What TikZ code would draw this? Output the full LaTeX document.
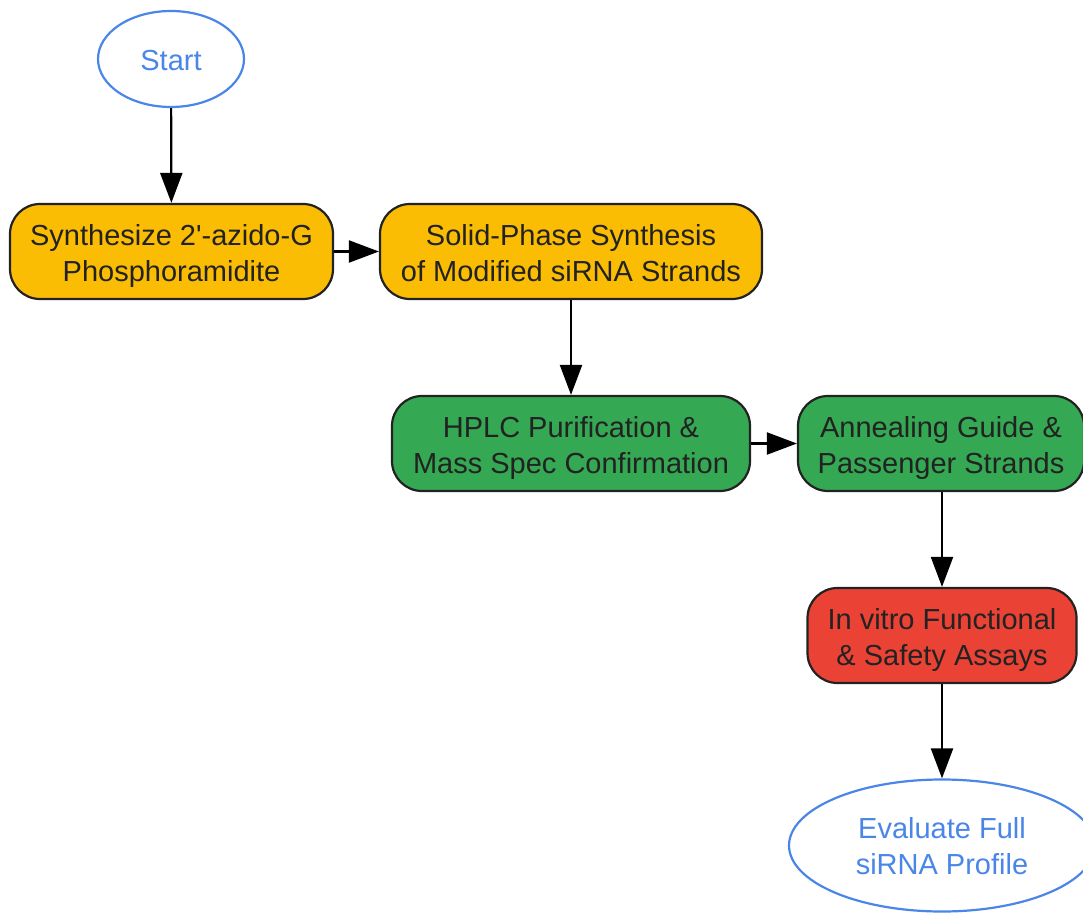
\documentclass[tikz,border=0pt]{standalone}
\usepackage{fontspec}
\setmainfont{Liberation Sans}[Ligatures=TeXOff]
\usetikzlibrary{shapes.geometric,arrows.meta}
\definecolor{cblue}{HTML}{4A86E8}
\definecolor{corange}{HTML}{FBBC04}
\definecolor{cgreen}{HTML}{34A853}
\definecolor{cred}{HTML}{EA4335}
\definecolor{ctext}{HTML}{222222}
\begin{document}
\begin{tikzpicture}[x=1pt,y=-1pt,
  every node/.style={font=\fontsize{29}{36}\selectfont, align=center, inner sep=0pt},
  two/.style={text height=59pt, text depth=0pt},
  term/.style={ellipse, draw=cblue, line width=2.2pt, fill=white, text=cblue},
  proc/.style={rectangle, rounded corners=30pt, draw=ctext, line width=2.2pt, text=ctext, two},
  conn/.style={line width=2.2pt, -{Triangle[length=30pt,width=22pt]}}]
\useasboundingbox (0,0) rectangle (1083,912);
\node[term, minimum width=146pt, minimum height=96pt, text height=23pt, text depth=0pt] (start) at (171,59) {Start};
\node[proc, fill=corange, minimum width=323pt, minimum height=95pt] (b1) at (171.5,251.5) {Synthesize 2'-azido-G\\Phosphoramidite};
\node[proc, fill=corange, minimum width=382pt, minimum height=95pt] (b2) at (571,251.5) {Solid-Phase Synthesis\\of Modified siRNA Strands};
\node[proc, fill=cgreen, minimum width=358pt, minimum height=95pt] (b3) at (571,443.5) {HPLC Purification \&\\Mass Spec Confirmation};
\node[proc, fill=cgreen, minimum width=286pt, minimum height=95pt] (b4) at (941,443.5) {Annealing Guide \&\\Passenger Strands};
\node[proc, fill=cred, minimum width=269pt, minimum height=95pt] (b5) at (942,635.5) {In vitro Functional\\\& Safety Assays};
\node[term, two, text height=58pt, minimum width=306pt, minimum height=132pt] (end) at (942,845.5) {Evaluate Full\\siRNA Profile};
\draw[conn] (start) -- (b1);
\draw[conn] (b1) -- (b2);
\draw[conn] (b2) -- (b3);
\draw[conn] (b3) -- (b4);
\draw[conn] (b4.south -| b5.north) -- (b5);
\draw[conn] (b5) -- (end);
\end{tikzpicture}
\end{document}
